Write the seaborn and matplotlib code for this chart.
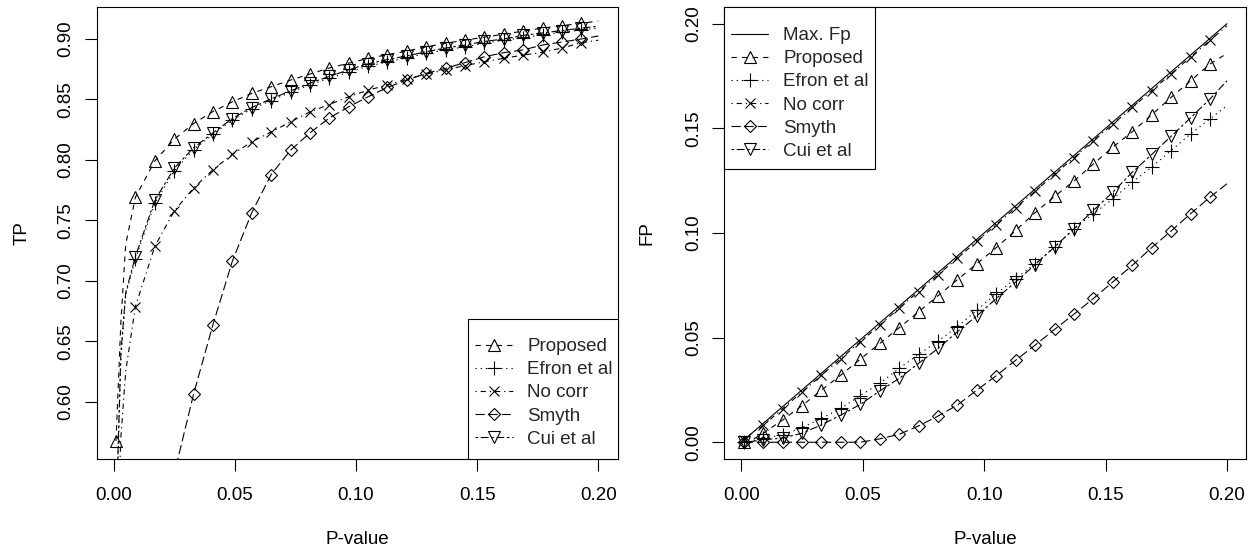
import numpy as np
import pandas as pd
import matplotlib
matplotlib.use("Agg")
import matplotlib.pyplot as plt
from matplotlib.lines import Line2D
from matplotlib.patches import Rectangle
import seaborn as sns

# P-value grid used for the curves; markers sit on every 0.008 step from 0.001
p_value = [0.001, 0.003, 0.005, 0.009, 0.017, 0.025, 0.033, 0.041, 0.049, 0.057,
           0.065, 0.073, 0.081, 0.089, 0.097, 0.105, 0.113, 0.121, 0.129, 0.137,
           0.145, 0.153, 0.161, 0.169, 0.177, 0.185, 0.193, 0.200]
marker_idx = [0] + list(range(3, 27))

# True positive rates
tp_proposed = [0.5675, 0.665, 0.730, 0.769, 0.799, 0.817, 0.830, 0.840, 0.848, 0.855,
               0.8605, 0.866, 0.871, 0.876, 0.880, 0.884, 0.887, 0.890, 0.8935, 0.8965,
               0.899, 0.9015, 0.904, 0.9065, 0.909, 0.911, 0.913, 0.9148]
tp_efron = [0.490, 0.635, 0.688, 0.718, 0.764, 0.791, 0.8085, 0.821, 0.833, 0.842,
            0.849, 0.856, 0.862, 0.8675, 0.8725, 0.8775, 0.881, 0.8845, 0.888, 0.891,
            0.8935, 0.8965, 0.899, 0.901, 0.9035, 0.9055, 0.9075, 0.909]
tp_nocorr = [0.450, 0.570, 0.625, 0.6786, 0.7284, 0.7576, 0.7767, 0.7919, 0.8046, 0.8149,
             0.8231, 0.8314, 0.8397, 0.8458, 0.8522, 0.8577, 0.8619, 0.8668, 0.871, 0.8745,
             0.878, 0.8812, 0.884, 0.8867, 0.889, 0.8925, 0.897, 0.899]
tp_smyth = [0.200, 0.220, 0.250, 0.320, 0.430, 0.540, 0.6062, 0.6637, 0.7162, 0.7563,
            0.7878, 0.808, 0.8223, 0.8347, 0.8439, 0.8522, 0.860, 0.866, 0.8716, 0.8757,
            0.8805, 0.8853, 0.8887, 0.891, 0.895, 0.8975, 0.900, 0.9025]
tp_cui = [0.500, 0.640, 0.690, 0.720, 0.7665, 0.793, 0.810, 0.8223, 0.8342, 0.8433,
          0.8505, 0.857, 0.8635, 0.869, 0.8745, 0.8795, 0.883, 0.886, 0.8895, 0.8925,
          0.895, 0.898, 0.900, 0.903, 0.905, 0.907, 0.909, 0.9105]

# False positive rates
fp_max = [0.001, 0.003, 0.005, 0.009, 0.017, 0.025, 0.033, 0.041, 0.049, 0.057,
          0.065, 0.073, 0.081, 0.089, 0.097, 0.105, 0.113, 0.121, 0.129, 0.137,
          0.145, 0.153, 0.161, 0.169, 0.177, 0.185, 0.193, 0.200]
fp_proposed = [0.0, 0.0005, 0.0015, 0.0043, 0.0106, 0.0175, 0.0249, 0.0321, 0.0397, 0.0472,
               0.0547, 0.0623, 0.0700, 0.0777, 0.0853, 0.0930, 0.1012, 0.1097, 0.1175, 0.1248,
               0.1330, 0.1410, 0.1484, 0.1564, 0.1648, 0.1727, 0.1807, 0.1858]
fp_efron = [0.0, 0.0003, 0.0008, 0.0020, 0.0035, 0.0070, 0.0114, 0.0162, 0.0223, 0.0281,
            0.0353, 0.0420, 0.0483, 0.0552, 0.0631, 0.0710, 0.0782, 0.0853, 0.0933, 0.1020,
            0.1092, 0.1163, 0.1243, 0.1314, 0.1394, 0.1473, 0.1545, 0.1608]
fp_nocorr = [0.001, 0.003, 0.005, 0.008, 0.016, 0.024, 0.032, 0.040, 0.048, 0.056,
             0.064, 0.072, 0.080, 0.088, 0.096, 0.104, 0.112, 0.120, 0.128, 0.136,
             0.144, 0.152, 0.160, 0.168, 0.176, 0.184, 0.192, 0.199]
fp_smyth = [0.0, 0.0, 0.0, 0.0, 0.0, 0.0, 0.0, 0.0, 0.0, 0.0016,
            0.0038, 0.0078, 0.0125, 0.0178, 0.0249, 0.0318, 0.0392, 0.0464, 0.0539, 0.0612,
            0.0687, 0.0766, 0.0845, 0.0930, 0.1009, 0.1092, 0.1171, 0.1235]
fp_cui = [0.0, 0.0002, 0.0005, 0.0012, 0.0020, 0.0043, 0.0083, 0.0130, 0.0181, 0.0245,
          0.0305, 0.0377, 0.0448, 0.0528, 0.0604, 0.0687, 0.0766, 0.0849, 0.0933, 0.1020,
          0.1108, 0.1195, 0.1290, 0.1375, 0.1462, 0.1550, 0.1640, 0.1727]

x_ticks = [0.00, 0.05, 0.10, 0.15, 0.20]
tp_ticks = [0.60, 0.65, 0.70, 0.75, 0.80, 0.85, 0.90]
fp_ticks = [0.00, 0.05, 0.10, 0.15, 0.20]

tp_df = pd.DataFrame({"P-value": p_value, "Proposed": tp_proposed, "Efron et al": tp_efron,
                      "No corr": tp_nocorr, "Smyth": tp_smyth, "Cui et al": tp_cui})
fp_df = pd.DataFrame({"P-value": p_value, "Max. Fp": fp_max, "Proposed": fp_proposed,
                      "Efron et al": fp_efron, "No corr": fp_nocorr, "Smyth": fp_smyth,
                      "Cui et al": fp_cui})

sns.set_theme(style="ticks")
plt.rcParams["font.family"] = ["Liberation Sans", "DejaVu Sans"]
plt.rcParams["lines.scale_dashes"] = False

FS = 13.5
LW = 0.8
styles = {
    "Max. Fp": dict(ls="-", marker="None", ms=0),
    "Proposed": dict(ls=(0, (3.8, 3.8)), marker="^", ms=8),
    "Efron et al": dict(ls=(0, (0.9, 2.8)), marker="+", ms=10),
    "No corr": dict(ls=(0, (0.9, 2.8, 3.8, 2.8)), marker="x", ms=7),
    "Smyth": dict(ls=(0, (6.6, 2.8)), marker="D", ms=6.2),
    "Cui et al": dict(ls=(0, (1.9, 1.9, 5.6, 1.9)), marker="v", ms=8),
}


def draw_panel(ax, df, series, ylim, yticks, ylabel, ylab_x, leg_anchor, leg_loc, leg_box):
    handles = []
    for name in series:
        st = styles[name]
        sns.lineplot(data=df, x="P-value", y=name, ax=ax, color="black", lw=LW,
                     linestyle=st["ls"], marker=st["marker"], markevery=marker_idx,
                     ms=st["ms"], mfc="none", mec="black", mew=LW,
                     errorbar=None, sort=False)
        handles.append(Line2D([], [], color="black", lw=LW, ls=st["ls"],
                              marker=st["marker"], ms=st["ms"], mfc="none",
                              mec="black", mew=LW))
    ax.set_xlim(-0.00696, 0.20796)
    ax.set_ylim(*ylim)
    ax.set_xticks(x_ticks)
    ax.set_xticklabels([f"{t:.2f}" for t in x_ticks])
    ax.set_yticks(yticks)
    ax.set_yticklabels([f"{t:.2f}" for t in yticks])
    ax.tick_params(axis="both", direction="out", length=8.4, width=LW, color="black",
                   labelsize=FS, labelcolor="black")
    ax.tick_params(axis="x", pad=12)
    ax.tick_params(axis="y", pad=7.6, labelrotation=90)
    for lab in ax.get_yticklabels():
        lab.set_va("center")
    for sp in ax.spines.values():
        sp.set_visible(True)
        sp.set_color("black")
        sp.set_linewidth(LW)
    ax.set_xlabel("P-value", fontsize=FS, color="black")
    ax.set_ylabel(ylabel, fontsize=FS, color="black")
    ax.xaxis.set_label_coords(0.5, -0.16)
    ax.yaxis.set_label_coords(ylab_x, 0.5)

    # Legend box: a plain rectangle in axes coordinates behind the entries
    bx0, by0, bx1, by1 = leg_box
    ax.add_patch(Rectangle((bx0, by0), bx1 - bx0, by1 - by0, transform=ax.transAxes,
                           facecolor="white", edgecolor="black", lw=LW, zorder=4.5,
                           clip_on=False))
    ax.legend(handles, series, loc=leg_loc, bbox_to_anchor=leg_anchor, borderaxespad=0,
              frameon=False, fontsize=FS, handlelength=2.0, handletextpad=0.78,
              labelspacing=0.32, borderpad=0.35)


fig = plt.figure(figsize=(12.59, 5.56), dpi=100)
ax1 = fig.add_axes([0.0768, 0.1745, 0.4138, 0.813])
ax2 = fig.add_axes([0.5754, 0.1745, 0.4145, 0.813])

draw_panel(ax1, tp_df, ["Proposed", "Efron et al", "No corr", "Smyth", "Cui et al"],
           (0.5526, 0.9265), tp_ticks, "TP", -0.126,
           (0.7138, 0.0105), "lower left", (0.7121, 0.0, 1.0, 0.3097))
draw_panel(ax2, fp_df, ["Max. Fp", "Proposed", "Efron et al", "No corr", "Smyth", "Cui et al"],
           (-0.008, 0.208), fp_ticks, "FP", -0.1317,
           (0.0, 0.970), "upper left", (0.0, 0.6416, 0.2886, 1.0))

fig.savefig("out.png", dpi=100, facecolor="white")
